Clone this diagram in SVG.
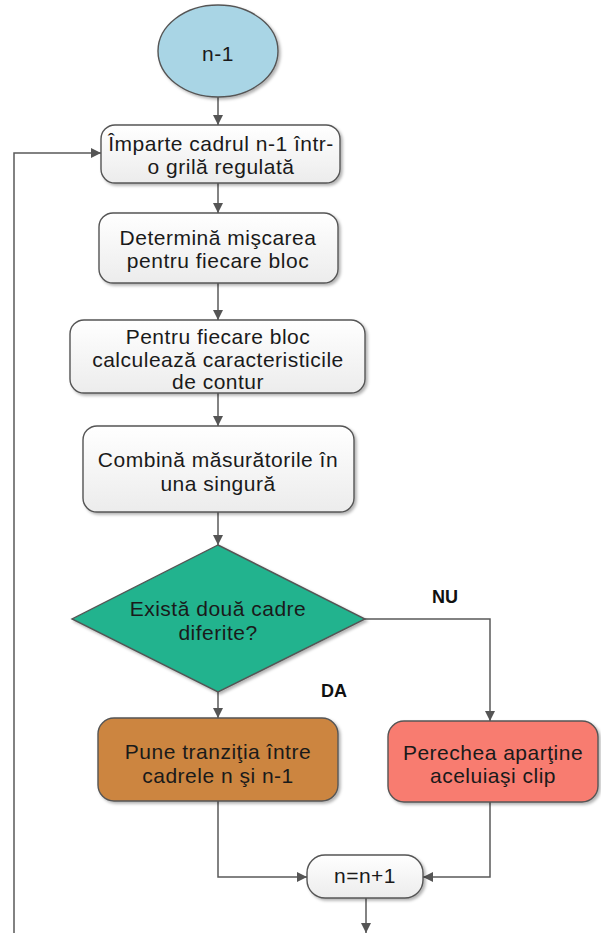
<svg xmlns="http://www.w3.org/2000/svg" width="601" height="933" viewBox="0 0 601 933">
  <defs>
    <linearGradient id="boxFill" x1="0" y1="0" x2="0" y2="1">
      <stop offset="0" stop-color="#ffffff"/>
      <stop offset="1" stop-color="#ececec"/>
    </linearGradient>
    <filter id="shadow" x="-10%" y="-10%" width="125%" height="130%">
      <feDropShadow dx="2" dy="2" stdDeviation="1.5" flood-color="#000" flood-opacity="0.3"/>
    </filter>
    <marker id="arrow" viewBox="0 0 10 10" refX="10" refY="5" markerWidth="10" markerHeight="10" markerUnits="userSpaceOnUse" orient="auto">
      <path d="M0,0 L10,5 L0,10 Z" fill="#555555"/>
    </marker>
  </defs>
  <style>
    .shape { stroke: #555555; stroke-width: 1.4; filter: url(#shadow); }
    .proc { fill: url(#boxFill); }
    .label { font-family: "Liberation Sans", Arial, sans-serif; font-size: 21px; fill: #1a1a1a; text-anchor: middle; letter-spacing: 0.5px; }
    .branch { font-family: "Liberation Sans", Arial, sans-serif; font-size: 18px; font-weight: bold; fill: #111111; text-anchor: middle; }
    .conn { fill: none; stroke: #5a5a5a; stroke-width: 1.5; marker-end: url(#arrow); }
  </style>

  <rect width="601" height="933" fill="#ffffff"/>

  <!-- connectors -->
  <g id="connectors">
    <path class="conn" d="M218,97 L218,125"/>
    <path class="conn" d="M218,183 L218,213"/>
    <path class="conn" d="M218,283 L218,320"/>
    <path class="conn" d="M218,393 L218,426"/>
    <path class="conn" d="M218,512 L218,545"/>
    <path class="conn" d="M218,692 L218,718"/>
    <path class="conn" d="M365,619 L490,619 L490,721"/>
    <path class="conn" d="M218,801 L218,877 L307,877"/>
    <path class="conn" d="M490,802 L490,877 L423,877"/>
    <path class="conn" d="M366,898 L366,933"/>
    <path class="conn" d="M14,933 L14,153 L101,153"/>
  </g>

  <!-- start -->
  <g id="start">
    <ellipse class="shape" cx="218" cy="51" rx="60" ry="46" fill="#a9d5e5"/>
    <text class="label" x="218" y="61">n-1</text>
  </g>

  <g id="split-grid">
    <rect class="shape proc" x="101" y="125" width="239" height="58" rx="14"/>
    <text class="label" x="221" y="151">Împarte cadrul n-1 într-</text>
    <text class="label" x="221" y="174">o grilă regulată</text>
  </g>

  <g id="motion">
    <rect class="shape proc" x="99" y="213" width="239" height="70" rx="14"/>
    <text class="label" x="218" y="245">Determină mişcarea</text>
    <text class="label" x="218" y="268">pentru fiecare bloc</text>
  </g>

  <g id="contour">
    <rect class="shape proc" x="70" y="320" width="295" height="73" rx="14"/>
    <text class="label" x="218" y="344">Pentru fiecare bloc</text>
    <text class="label" x="218" y="367">calculează caracteristicile</text>
    <text class="label" x="218" y="389">de contur</text>
  </g>

  <g id="combine">
    <rect class="shape proc" x="83" y="426" width="271" height="86" rx="14"/>
    <text class="label" x="218" y="467">Combină măsurătorile în</text>
    <text class="label" x="218" y="491">una singură</text>
  </g>

  <g id="decision">
    <polygon class="shape" points="218,545 365,619 218,692 72,619" fill="#21b38e"/>
    <text class="label" x="218" y="616">Există două cadre</text>
    <text class="label" x="218" y="640">diferite?</text>
  </g>

  <g id="label-nu">
    <text class="branch" x="445" y="603">NU</text>
  </g>
  <g id="label-da">
    <text class="branch" x="334" y="697">DA</text>
  </g>

  <g id="transition">
    <rect class="shape" x="98" y="718" width="240" height="83" rx="16" fill="#cc8540"/>
    <text class="label" x="218" y="759">Pune tranziţia între</text>
    <text class="label" x="218" y="783">cadrele n şi n-1</text>
  </g>

  <g id="same-clip">
    <rect class="shape" x="388" y="721" width="210" height="81" rx="16" fill="#f87c70"/>
    <text class="label" x="493" y="760">Perechea aparţine</text>
    <text class="label" x="493" y="783">aceluiaşi clip</text>
  </g>

  <g id="increment">
    <rect class="shape proc" x="307" y="855" width="116" height="43" rx="18"/>
    <text class="label" x="365" y="883">n=n+1</text>
  </g>
</svg>
